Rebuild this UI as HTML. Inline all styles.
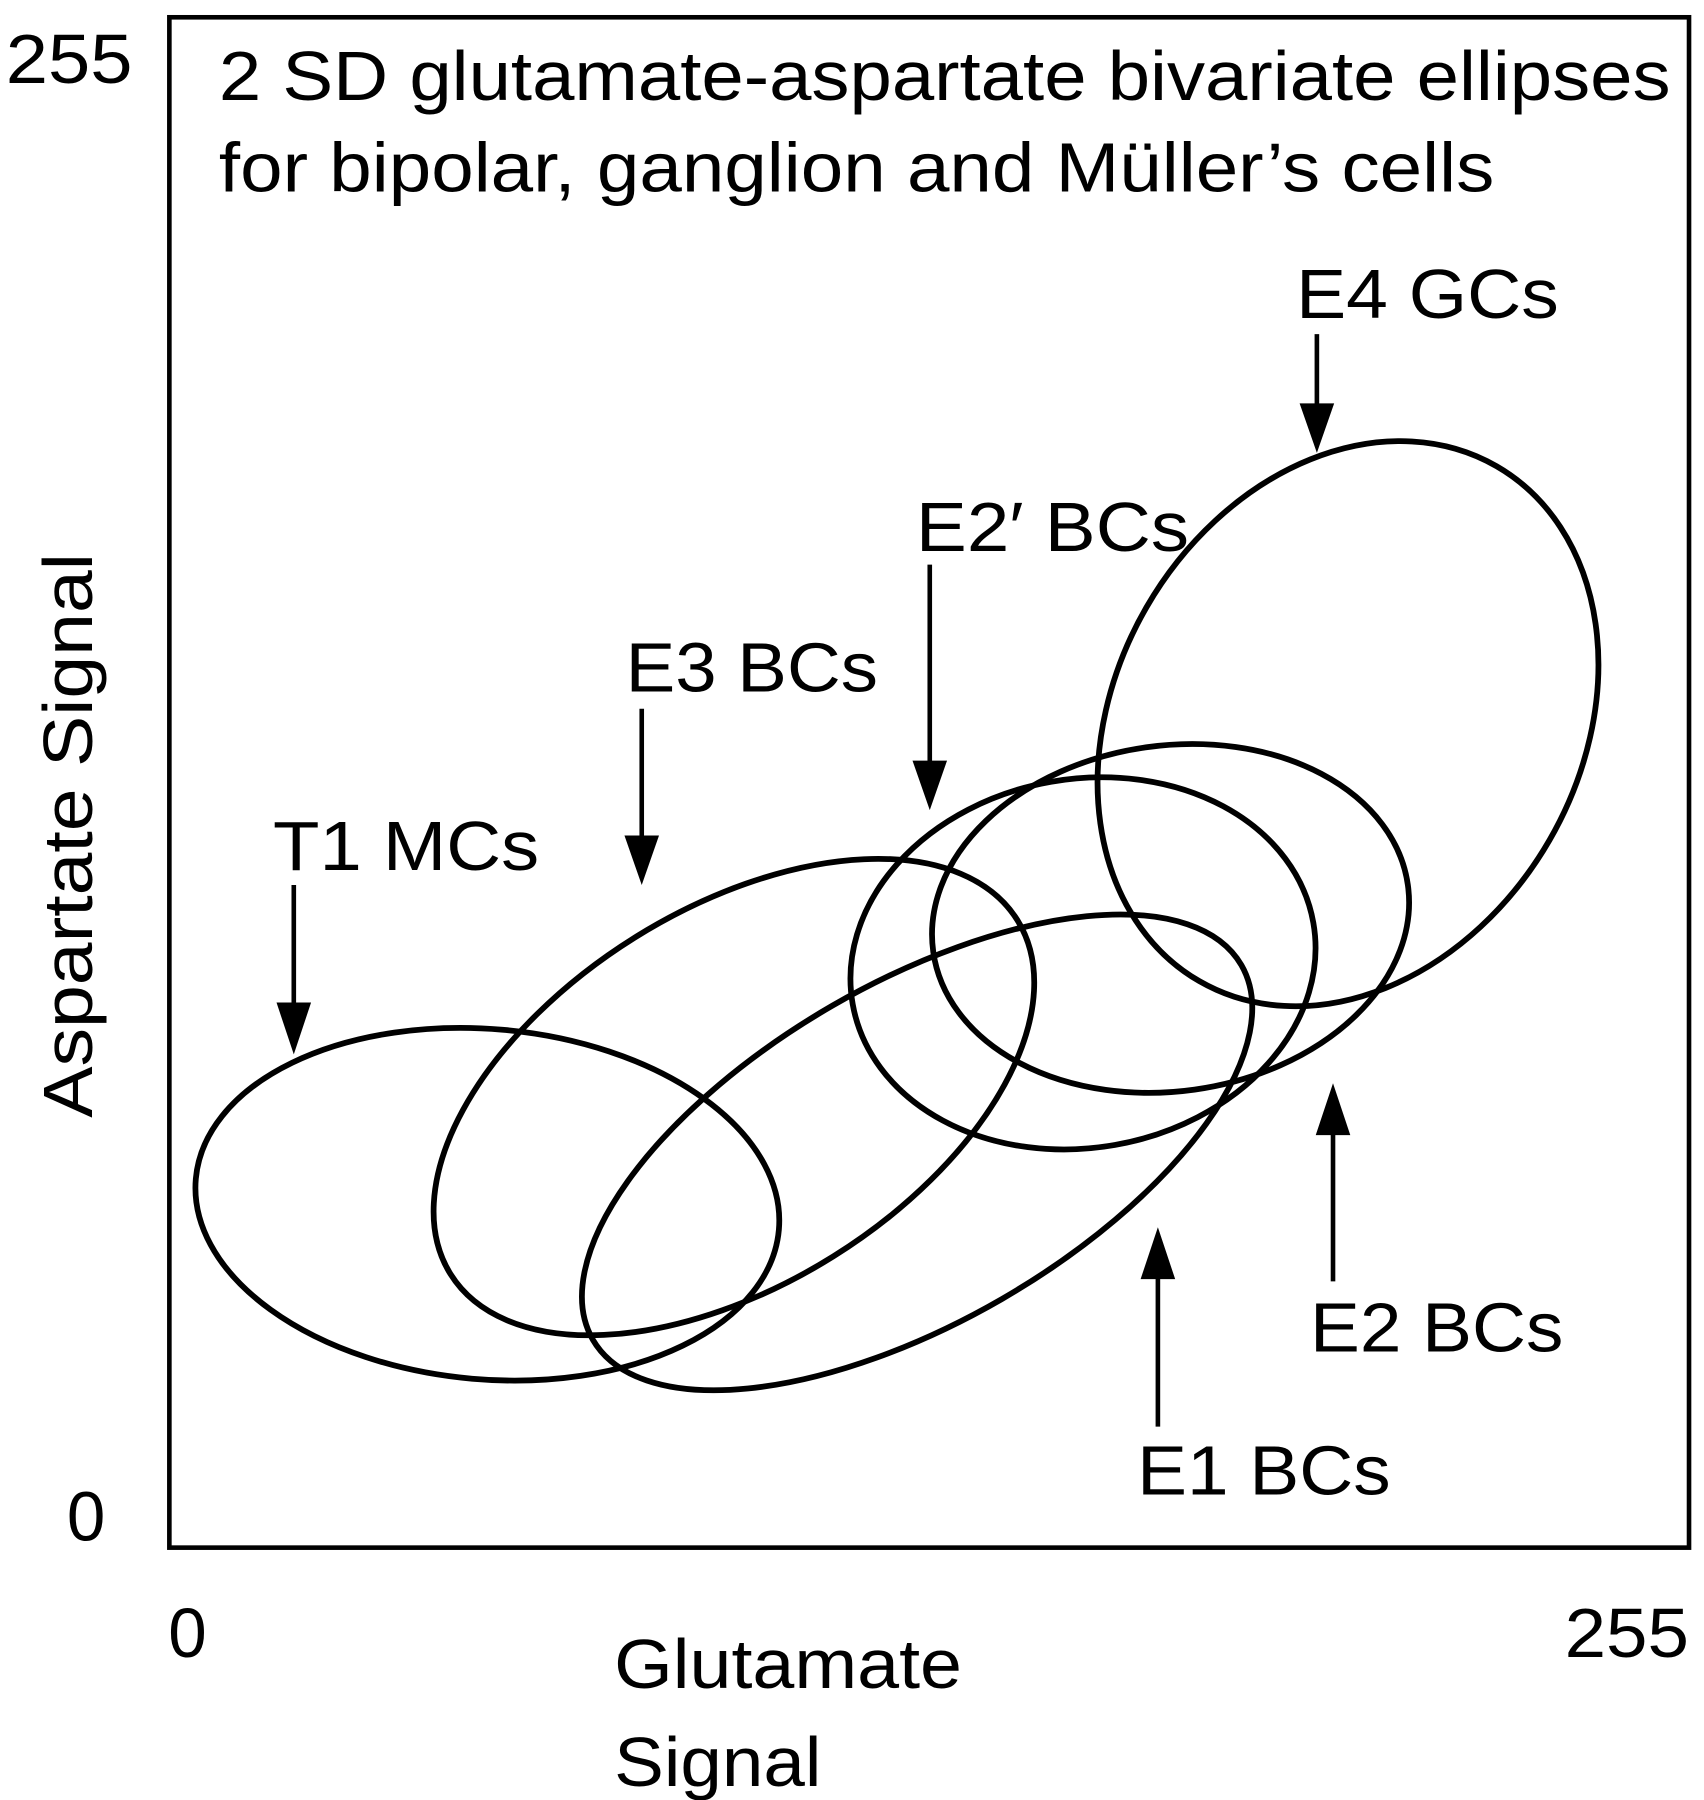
<!DOCTYPE html>
<html><head><meta charset="utf-8"><style>
html,body{margin:0;padding:0;background:#fff}
svg{display:block}
text{font-family:"Liberation Sans",Arial,sans-serif;fill:#000}
</style></head><body>
<svg width="1704" height="1800" viewBox="0 0 1479 1562" preserveAspectRatio="none" xmlns="http://www.w3.org/2000/svg">
<rect x="147" y="15" width="1319" height="1328" fill="none" stroke="#000" stroke-width="4"/>
<g font-size="60" lengthAdjust="spacingAndGlyphs">
<text x="5" y="72" textLength="110" lengthAdjust="spacingAndGlyphs">255</text>
<text x="190" y="87" textLength="1260" lengthAdjust="spacingAndGlyphs">2 SD glutamate-aspartate bivariate ellipses</text>
<text x="190" y="166" textLength="1107" lengthAdjust="spacingAndGlyphs">for bipolar, ganglion and Müller’s cells</text>
<text x="58" y="1337">0</text>
<text x="146" y="1438">0</text>
<text x="1358" y="1438" textLength="108" lengthAdjust="spacingAndGlyphs">255</text>
<text x="533" y="1465" textLength="302" lengthAdjust="spacingAndGlyphs">Glutamate</text>
<text x="533" y="1550" textLength="180" lengthAdjust="spacingAndGlyphs">Signal</text>
<text transform="translate(80,725) rotate(-90)" text-anchor="middle" textLength="490" lengthAdjust="spacingAndGlyphs">Aspartate Signal</text>
<text x="1125" y="276" textLength="228" lengthAdjust="spacingAndGlyphs">E4 GCs</text>
<text x="795" y="478" textLength="237" lengthAdjust="spacingAndGlyphs">E2′ BCs</text>
<text x="543" y="600" textLength="219" lengthAdjust="spacingAndGlyphs">E3 BCs</text>
<text x="237" y="755" textLength="231" lengthAdjust="spacingAndGlyphs">T1 MCs</text>
<text x="1137" y="1173" textLength="220" lengthAdjust="spacingAndGlyphs">E2 BCs</text>
<text x="987" y="1297" textLength="220" lengthAdjust="spacingAndGlyphs">E1 BCs</text>
</g>
<g fill="none" stroke="#000" stroke-width="5">
<ellipse cx="423" cy="1045" rx="254" ry="152" transform="rotate(5 423 1045)"/>
<ellipse cx="637" cy="952" rx="290" ry="163" transform="rotate(-32 637 952)"/>
<ellipse cx="796" cy="1000" rx="325" ry="147" transform="rotate(-30 796 1000)"/>
<ellipse cx="940" cy="836" rx="203" ry="160" transform="rotate(-10 940 836)"/>
<ellipse cx="1016" cy="797" rx="208" ry="150" transform="rotate(-8 1016 797)"/>
<ellipse cx="1170" cy="628" rx="258" ry="202" transform="rotate(-60 1170 628)"/>
</g>
<g stroke="#000" stroke-width="4" fill="none">
<line x1="255" y1="768" x2="255" y2="905"/>
<line x1="557" y1="615" x2="557" y2="755"/>
<line x1="807" y1="490" x2="807" y2="690"/>
<line x1="1143" y1="290" x2="1143" y2="382"/>
<line x1="1157" y1="1112" x2="1157" y2="950"/>
<line x1="1005" y1="1238" x2="1005" y2="1075"/>
</g>
<g fill="#000">
<path d="M240,870 L270,870 L255,915 z"/>
<path d="M542,725 L572,725 L557,768 z"/>
<path d="M792,660 L822,660 L807,703 z"/>
<path d="M1128,350 L1158,350 L1143,393 z"/>
<path d="M1142,985 L1172,985 L1157,940 z"/>
<path d="M990,1110 L1020,1110 L1005,1065 z"/>
</g>
</svg>
</body></html>
